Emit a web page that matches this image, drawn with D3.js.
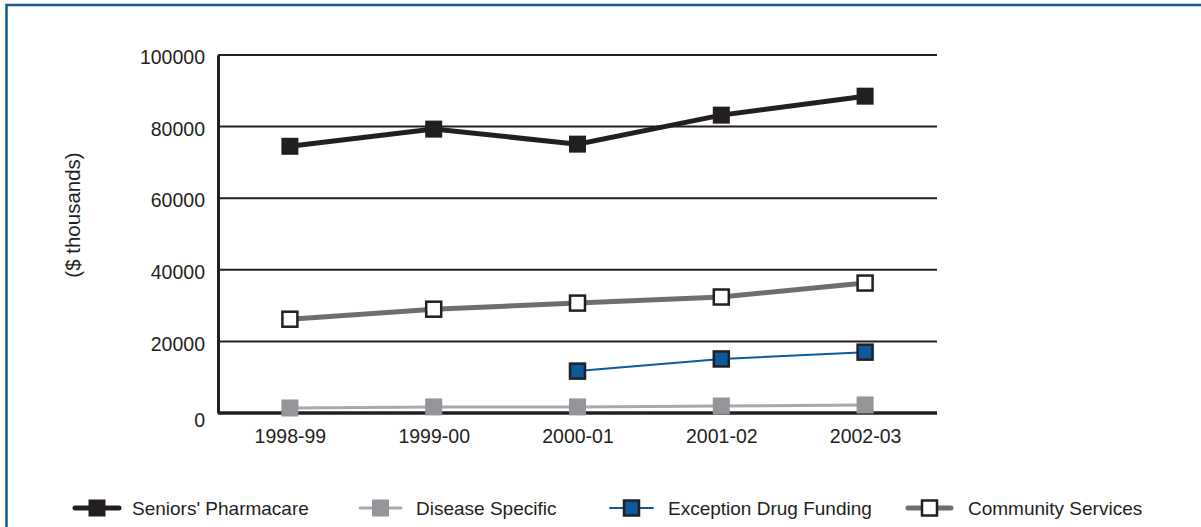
<!DOCTYPE html>
<html><head><meta charset="utf-8">
<script src="https://cdn.jsdelivr.net/npm/d3@7"></script>
<style>body{margin:0;background:#fff}svg{display:block;font-family:"Liberation Sans",Arial,sans-serif}</style>
</head><body>
<svg id="c" width="1201" height="527"></svg>
<script>
const categories = ["1998-99","1999-00","2000-01","2001-02","2002-03"];
const yTicks = [0,20000,40000,60000,80000,100000];
const seniorsPharmacare = [74500,79300,75100,83200,88500];
const diseaseSpecific = [1400,1700,1700,1950,2250];
const exceptionDrugFunding = [null,null,11700,15100,17000];
const communityServices = [26200,29000,30700,32400,36300];
const seriesNames = ["Seniors' Pharmacare","Disease Specific","Exception Drug Funding","Community Services"];

const svg = d3.select("#c");
// frame
svg.append("rect").attr("x",6.5).attr("y",5).attr("width",1200).attr("height",530)
  .attr("fill","none").attr("stroke","#0b5a9c").attr("stroke-width",2.5);

const L=218,R=937,T=55,B=413;
const x = d3.scalePoint().domain(categories).range([L,R]).padding(0.5);
const y = d3.scaleLinear().domain([0,100000]).range([B,T]);

// gridlines
svg.append("g").selectAll("line").data(yTicks.filter(d=>d>0)).join("line")
  .attr("x1",L).attr("x2",R).attr("y1",d=>y(d)).attr("y2",d=>y(d))
  .attr("stroke","#231f20").attr("stroke-width",2);
// y axis
const ya = svg.append("g").attr("transform",`translate(${L},0)`)
  .call(d3.axisLeft(y).tickValues(yTicks).tickSize(0).tickPadding(13).tickFormat(d3.format("d")));
ya.select(".domain").attr("stroke","#231f20").attr("stroke-width",3);
ya.selectAll("text").attr("font-size",19.5).attr("fill","#231f20").attr("font-family","Liberation Sans, Arial, sans-serif").attr("dy","0.45em");
ya.selectAll("text").filter(d=>d===0).attr("dy","0.7em");
// x axis
const xa = svg.append("g").attr("transform",`translate(0,${B})`)
  .call(d3.axisBottom(x).tickSize(0).tickPadding(16));
xa.select(".domain").attr("stroke","#231f20").attr("stroke-width",3.5).attr("d",`M${L},0H${R}`);
xa.selectAll("text").attr("font-size",19.5).attr("fill","#231f20").attr("font-family","Liberation Sans, Arial, sans-serif");

svg.append("text").attr("transform","translate(80,215) rotate(-90)")
  .attr("text-anchor","middle").attr("font-size",20.5).attr("fill","#231f20").text("($ thousands)");

const styles = [
  {data:seniorsPharmacare, line:"#231f20", lw:5, fill:"#231f20", stroke:"#231f20", sw:0, ms:17},
  {data:diseaseSpecific, line:"#a7a9ac", lw:3, fill:"#939598", stroke:"#939598", sw:0, ms:17},
  {data:exceptionDrugFunding, line:"#0b5a9c", lw:2, fill:"#0b5a9c", stroke:"#231f20", sw:2.5, ms:15},
  {data:communityServices, line:"#6d6e71", lw:5, fill:"#ffffff", stroke:"#231f20", sw:2.5, ms:15}
];
const lineGen = d3.line().defined(d=>d.v!=null).x(d=>x(d.c)).y(d=>y(d.v));
styles.forEach(s=>{
  const pts = categories.map((c,i)=>({c,v:s.data[i]}));
  const g = svg.append("g");
  g.append("path").datum(pts).attr("d",lineGen).attr("fill","none")
    .attr("stroke",s.line).attr("stroke-width",s.lw);
  g.selectAll("rect").data(pts.filter(d=>d.v!=null)).join("rect")
    .attr("x",d=>x(d.c)-s.ms/2).attr("y",d=>y(d.v)-s.ms/2)
    .attr("width",s.ms).attr("height",s.ms)
    .attr("fill",s.fill).attr("stroke",s.stroke).attr("stroke-width",s.sw);
});

// legend
const legX = [75,360,610,908];
const legLen = [44,41,43,43];
const legText = [57,56,58,60];
const ly = 508;
styles.forEach((s,i)=>{
  const g = svg.append("g").attr("transform",`translate(${legX[i]},${ly})`);
  g.append("line").attr("x1",0).attr("x2",legLen[i]).attr("y1",0).attr("y2",0)
    .attr("stroke",s.line).attr("stroke-width",s.lw).attr("stroke-linecap","round");
  const cx = legLen[i]/2;
  g.append("rect").attr("x",cx-s.ms/2).attr("y",-s.ms/2).attr("width",s.ms).attr("height",s.ms)
    .attr("fill",s.fill).attr("stroke",s.stroke).attr("stroke-width",s.sw);
  g.append("text").attr("x",legText[i]).attr("y",0).attr("dy","0.35em")
    .attr("font-size",19).attr("fill","#231f20").text(seriesNames[i]);
});
</script>
</body></html>
